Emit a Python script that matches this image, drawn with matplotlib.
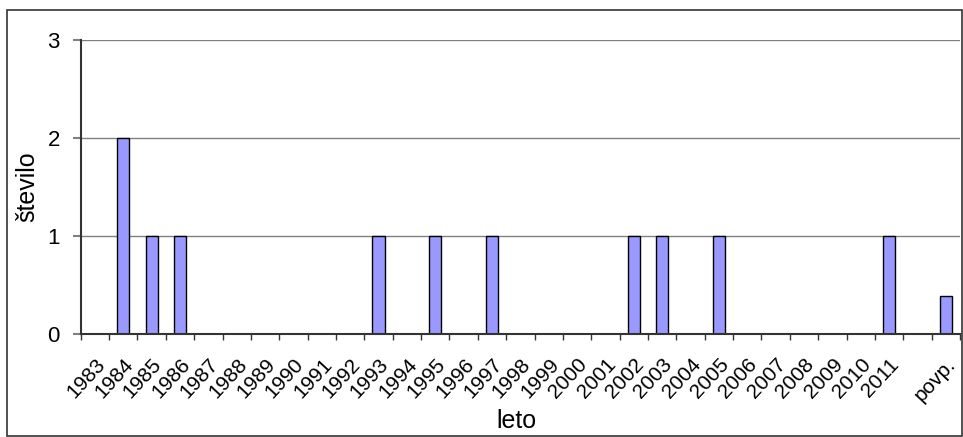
import matplotlib.pyplot as plt
import numpy as np

plt.rcParams['font.family'] = ['Liberation Sans', 'DejaVu Sans']

leta = [str(y) for y in range(1983, 2012)] + ['', 'povp.']
stevilo = [0, 2, 1, 1, 0, 0, 0, 0, 0, 0, 1, 0, 1, 0, 1, 0, 0, 0, 0, 1,
           1, 0, 1, 0, 0, 0, 0, 0, 1, 0, 0.38]

fig = plt.figure(figsize=(9.63, 4.37), dpi=100)
ax = fig.add_axes([0.0838, 0.2364, 0.9131, 0.6721])

x = np.arange(len(leta))
ax.bar(x, stevilo, width=0.43, color='#9999ff', edgecolor='black', linewidth=1, zorder=3)

ax.set_xlim(-0.5, len(leta) - 0.5)
ax.set_ylim(0, 3)
ax.set_yticks([0, 1, 2, 3])
ax.yaxis.grid(True, color='#808080', linewidth=1, zorder=0)

# category boundaries get the tick marks, labels sit in the middle of each slot
ax.set_xticks(x)
ax.set_xticklabels(leta, rotation=47, ha='right', va='top', rotation_mode='anchor', fontsize=15)
ax.set_xticks(np.arange(-0.5, len(leta)), minor=True)
ax.tick_params(axis='x', which='major', length=0, pad=15)
ax.tick_params(axis='x', which='minor', length=4, width=1, direction='out', color='#333333')
ax.tick_params(axis='y', length=6, width=1.5, direction='out', color='#808080', labelsize=16, pad=9)

for s in ['top', 'right']:
    ax.spines[s].set_visible(False)
ax.spines['left'].set_color('#333333')
ax.spines['left'].set_linewidth(1.5)
ax.spines['bottom'].set_color('#333333')
ax.spines['bottom'].set_linewidth(1.5)
ax.spines['bottom'].set_zorder(4)

ax.set_ylabel('število', fontsize=18, labelpad=6)
fig.text(0.536, 0.021, 'leto', fontsize=18, ha='center', va='baseline')

# frame round the whole chart
fig.patches.append(plt.Rectangle((7 / 963, 0.002), 955 / 963, 1 - 10 / 437 - 0.002,
                                 transform=fig.transFigure, fill=False,
                                 edgecolor='#333333', linewidth=1.2))

fig.savefig('out.png', dpi=100)
